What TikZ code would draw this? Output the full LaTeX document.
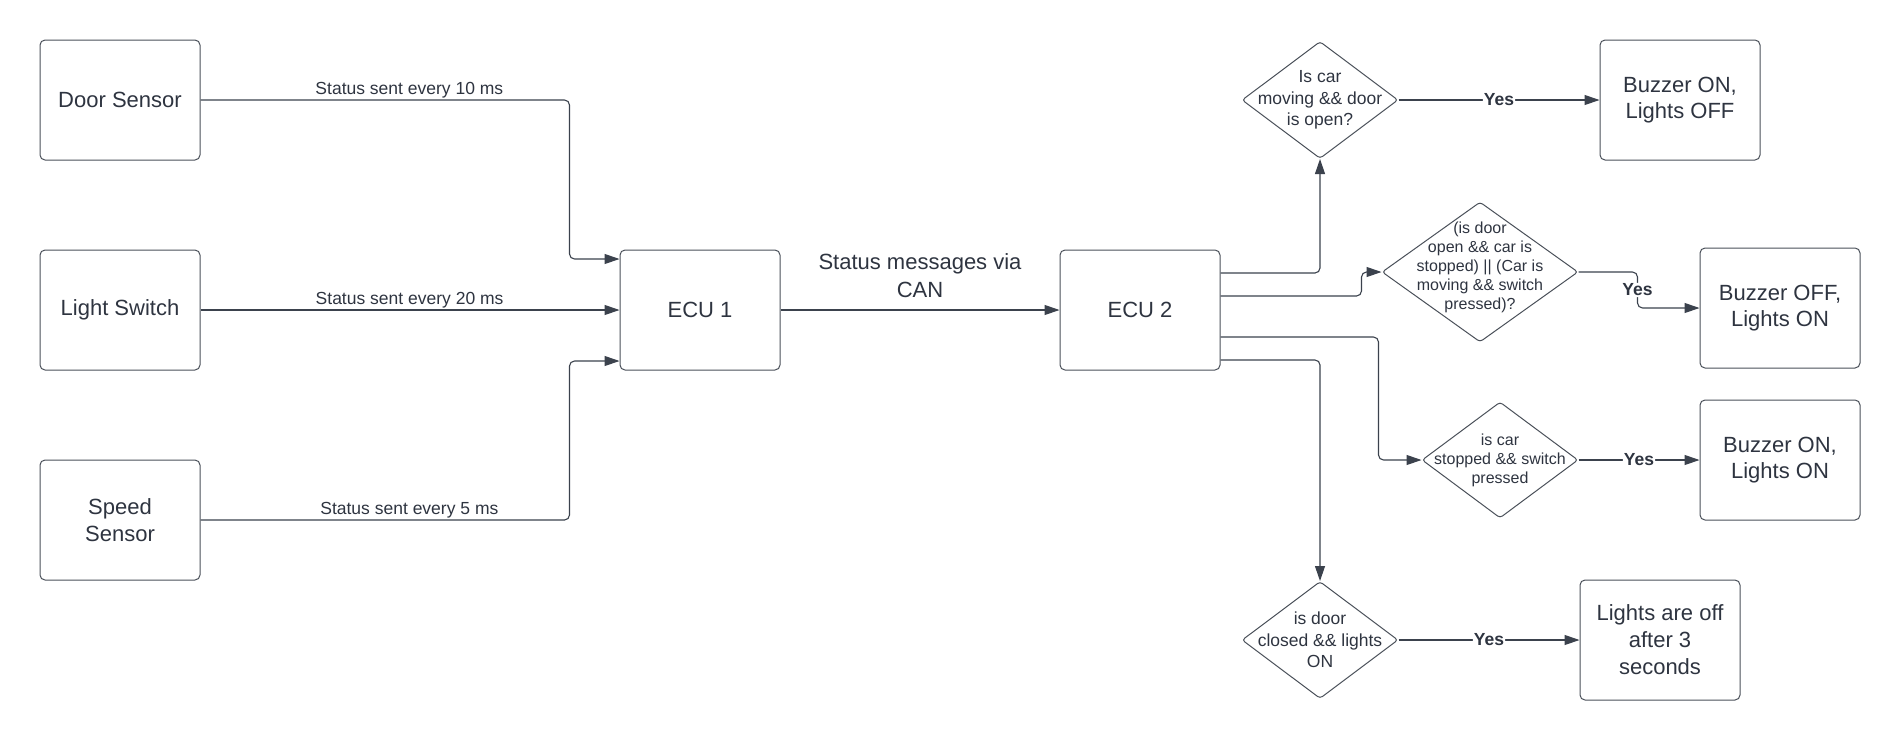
\documentclass[tikz,border=0pt]{standalone}
\usepackage{fontspec}
\setmainfont{Liberation Sans}
\usetikzlibrary{arrows.meta,shapes.geometric}
\definecolor{ln}{HTML}{3B424D}
\definecolor{bx}{HTML}{4A5059}
\definecolor{tx}{HTML}{2E3440}
\begin{document}
\begin{tikzpicture}[x=1pt,y=-1pt,
  box/.style={draw=bx, line width=1pt, rounded corners=5pt, minimum width=160pt, minimum height=120pt, align=center, text=tx, font=\fontsize{22}{26.5}\selectfont, inner sep=0pt},
  dia/.style={draw=bx, line width=1pt, diamond, rounded corners=3pt, inner sep=0pt, minimum width=156pt, minimum height=117pt},
  dtext/.style={align=center, text=tx, font=\fontsize{17.5}{21.5}\selectfont, inner sep=0pt},
  dtextsm/.style={align=center, text=tx, font=\fontsize{16}{19}\selectfont, inner sep=0pt},
  conn/.style={draw=ln, line width=1.1pt, rounded corners=5pt, -{Triangle[length=15pt,width=10pt]}},
  lbl/.style={text=tx, font=\fontsize{17.5}{21}\selectfont, inner sep=0pt},
  canlbl/.style={text=tx, align=center, font=\fontsize{22}{28}\selectfont, inner sep=0pt},
  yes/.style={text=tx, font=\fontsize{17.5}{21}\selectfont\bfseries, fill=white, inner sep=1pt}
]
\useasboundingbox (0,0) rectangle (1900,740);

% left column
\node[box] (ds) at (120,100) {Door Sensor};
\node[box] (ls) at (120,310) {Light Switch};
\node[box] (ss) at (120,520) {Speed\\Sensor};

% ECUs
\node[box] (e1) at (700,310) {ECU 1};
\node[box] (e2) at (1140,310) {ECU 2};

% decisions
\node[dia, label={[dtext]center:{Is car\\moving \&\& door\\is open?}}] (d1) at (1320,100) {};
\node[dia, minimum width=196pt, minimum height=140pt,
      label={[dtextsm, yshift=5pt]center:{(is door\\open \&\& car is\\stopped) || (Car is\\moving \&\& switch\\pressed)?}}] (d2) at (1480,272) {};
\node[dia, minimum height=116pt, label={[dtextsm]center:{is car\\stopped \&\& switch\\pressed}}] (d3) at (1500,460) {};
\node[dia, label={[dtext]center:{is door\\closed \&\& lights\\ON}}] (d4) at (1320,640) {};

% results
\node[box] (b1) at (1680,100) {Buzzer ON,\\Lights OFF};
\node[box] (b2) at (1780,308) {Buzzer OFF,\\Lights ON};
\node[box] (b3) at (1780,460) {Buzzer ON,\\Lights ON};
\node[box, font=\fontsize{22}{27}\selectfont] (b4) at (1660,640) {Lights are off\\after 3\\seconds};

% sensor connectors
\draw[conn] (ds.east) -- node[lbl, pos=0.566, anchor=base, yshift=6pt] {Status sent every 10 ms} ++(369,0) |- ([yshift=51pt]e1.west);
\draw[conn] (ls.east) -- node[lbl, pos=0.499, anchor=base, yshift=6pt] {Status sent every 20 ms} (e1.west);
\draw[conn] (ss.east) -- node[lbl, pos=0.566, anchor=base, yshift=6pt] {Status sent every 5 ms} ++(369,0) |- ([yshift=-51pt]e1.west);

% ECU1 -> ECU2
\draw[conn] (e1.east) -- node[canlbl, anchor=south, yshift=12pt] {Status messages via\\CAN} (e2.west);

% ECU2 -> decisions
\draw[conn] ([yshift=37pt]e2.east) -| (d1.south);
\draw[conn] ([yshift=14pt]e2.east) -| ([xshift=-20pt]d2.west) -- (d2.west);
\draw[conn] ([yshift=-27pt]e2.east) -| ([xshift=-43pt]d3.west) -- (d3.west);
\draw[conn] ([yshift=-50pt]e2.east) -| (d4.north);

% decisions -> results
\draw[conn] (d1.east) -- node[yes] {Yes} (b1.west);
\draw[conn] (d2.east) -| node[yes, pos=0.75] {Yes} ([xshift=-62pt]b2.west) -- (b2.west);
\draw[conn] (d3.east) -- node[yes] {Yes} (b3.west);
\draw[conn] (d4.east) -- node[yes] {Yes} (b4.west);
\end{tikzpicture}
\end{document}
